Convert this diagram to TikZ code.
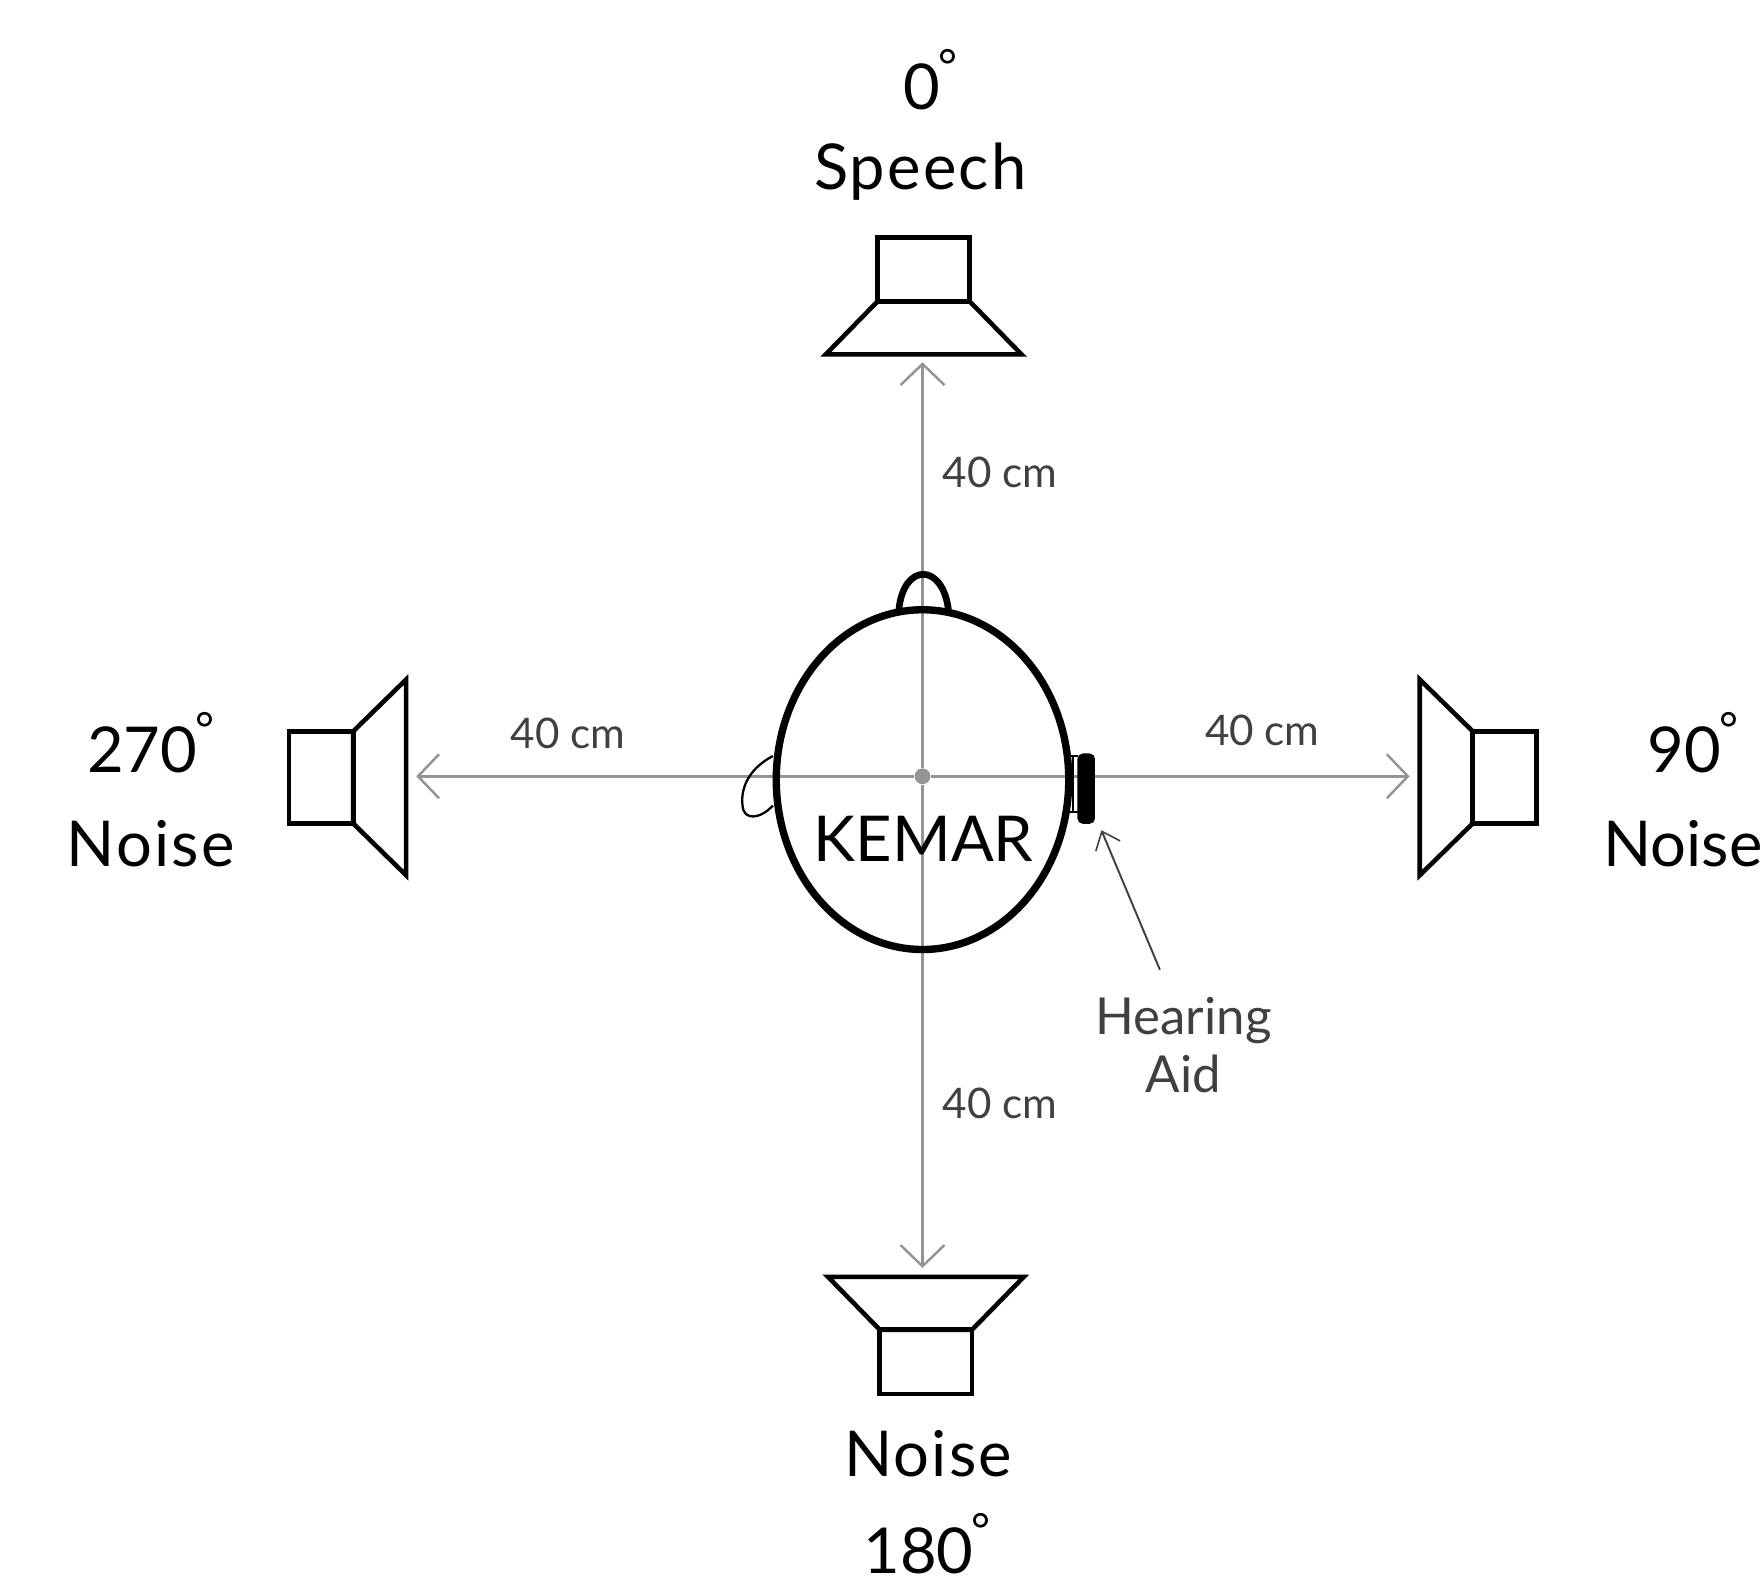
\documentclass[tikz,border=0pt]{standalone}
\usepackage{fontspec}
\setmainfont{Lato}
\usetikzlibrary{arrows.meta}
\definecolor{axisgray}{gray}{0.58}
\definecolor{notegray}{gray}{0.25}
\newcommand{\degmark}{\kern-.03em\raisebox{.42em}{\fontsize{26}{26}\selectfont °}}
\tikzset{
    speaker/.pic={
        \draw[line width=2.6pt] (0,-87) -- (0,87) -- (47,41) -- (47,-41) -- cycle;
        \draw[line width=2.6pt] (47,-41) rectangle (104,41);
    },
    biglabel/.style={font=\fontsize{36}{36}\selectfont, inner sep=0pt},
    widelabel/.style={font=\fontsize{36}{36}\selectfont\addfontfeature{LetterSpace=3.5}, inner sep=0pt},
    distlabel/.style={font=\fontsize{24}{24}\selectfont, text=notegray, inner sep=0pt},
    axis/.style={draw=axisgray, line width=1.6pt, -{Straight Barb[length=12pt, width=25pt, line width=1.4pt]}},
}
\begin{document}
\begin{tikzpicture}[x=0.0225cm, y=-0.0225cm]
    \useasboundingbox (0,0) rectangle (1568,1410);

    \node[circle, fill=axisgray, inner sep=0pt, minimum size=9pt] (mid) at (820,690) {};
    \coordinate (toptip) at (820,322);
    \coordinate (bottomtip) at (820,1127);
    \coordinate (lefttip) at (370,690);
    \coordinate (righttip) at (1253,690);
    \draw[axis] (mid) -- (toptip);
    \draw[axis] (mid) -- (bottomtip);
    \draw[axis] (mid) -- (lefttip);
    \draw[axis] (mid) -- (righttip);

    % head
    \draw[line width=4.2pt] (820,693) ellipse (130 and 151);
    \draw[line width=3.8pt] (799,542) .. controls (803,500) and (838,500) .. (843,542);
    \draw[line width=1.3pt] (687,672) .. controls (668,682) and (658,698) .. (660,716)
        .. controls (661,730) and (676,728) .. (687,716);
    \draw[line width=.9pt] (950,672) -- (958,672) (950,722) -- (958,722) (954,672) -- (954,722);
    \node[fill=black, rounded corners=3pt, minimum width=10pt, minimum height=40pt, inner sep=0pt] (aid) at (965.5,701) {};

    % speakers
    \pic at (821,315) [rotate=90] {speaker};
    \pic at (823,1135) [rotate=-90] {speaker};
    \pic at (361,691) [rotate=180] {speaker};
    \pic at (1262,691) {speaker};

    \node[biglabel] (kemar) at (821,746) {KEMAR};
    \node[biglabel] (speechdeg) at (827,71) {0\degmark};
    \node[widelabel] (speech) at (818,153) {Speech};
    \node[biglabel] (leftdeg) at (134,660) {270\degmark};
    \node[widelabel] (leftnoise) at (134,750) {Noise};
    \node[biglabel] (rightdeg) at (1505,660) {90\degmark};
    \node[biglabel] (rightnoise) at (1496,750) {Noise};
    \node[widelabel] (bottomnoise) at (825,1292) {Noise};
    \node[biglabel] (bottomdeg) at (824,1372) {180\degmark};

    \node[distlabel] (topdist) at (889,420) {40 cm};
    \node[distlabel] (bottomdist) at (889,981) {40 cm};
    \node[distlabel] (leftdist) at (505,652) {40 cm};
    \node[distlabel] (rightdist) at (1122,649) {40 cm};

    \node[distlabel, font=\fontsize{29}{33}\selectfont, align=center] (hearing) at (1052,929) {Hearing\\Aid};
    \coordinate (aidtail) at (1031,862);
    \coordinate (aidtip) at (979,738);
    \draw[-{Straight Barb[length=9pt, width=15pt, line width=.9pt]}, draw=notegray, line width=1.1pt] (aidtail) -- (aidtip);
\end{tikzpicture}
\end{document}
